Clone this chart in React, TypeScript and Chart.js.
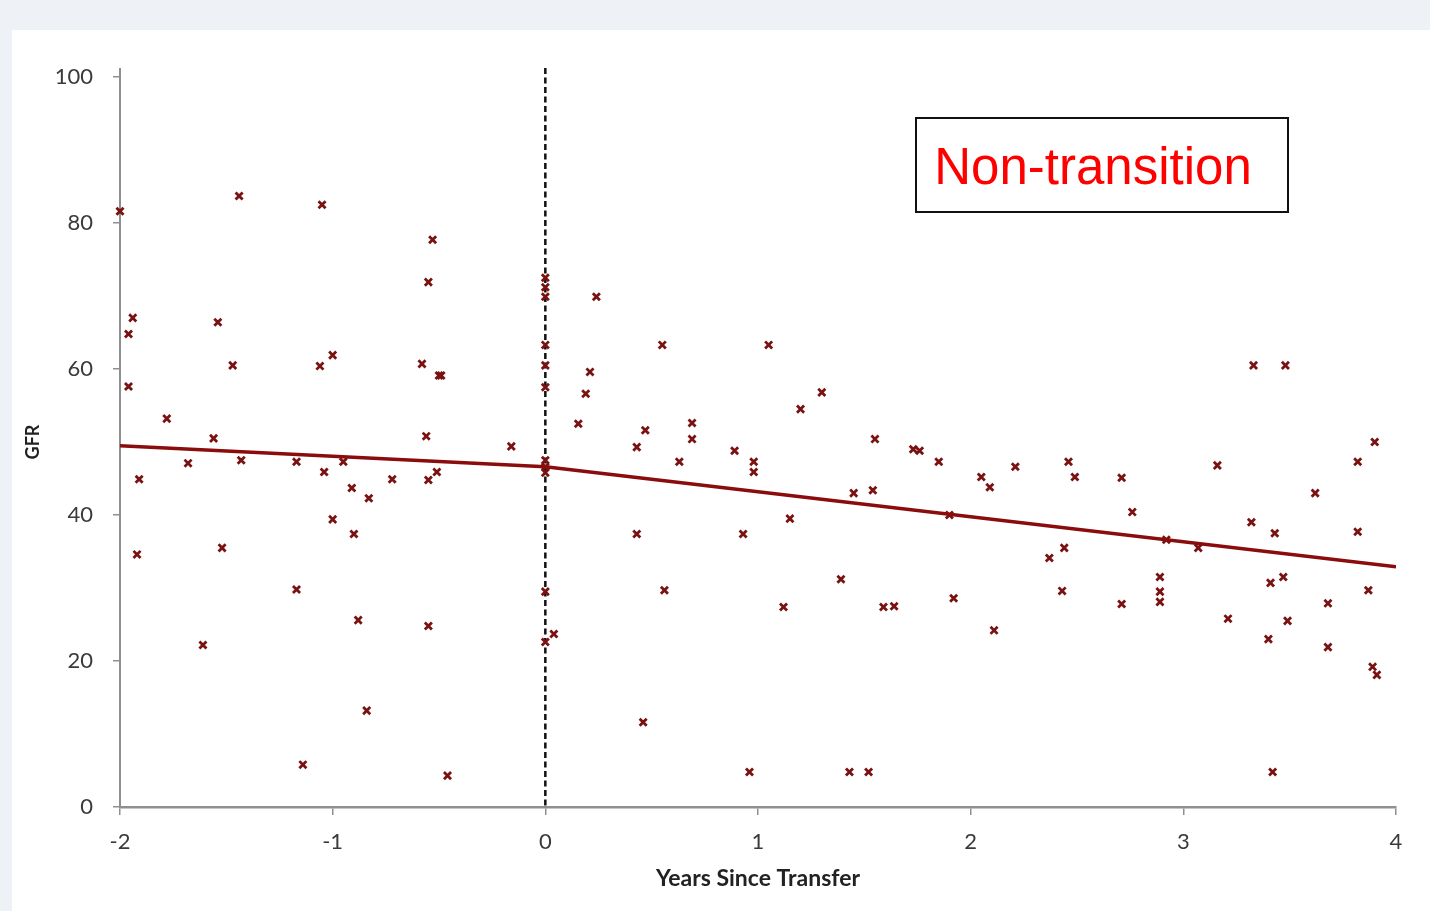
import React, { useEffect, useRef } from "react";
import { Chart, registerables } from "chart.js";

Chart.register(...registerables);

const preX = [-2.0, -1.96, -1.94, -1.96, -1.91, -1.92, -1.78, -1.68, -1.61, -1.56, -1.54, -1.52, -1.47, -1.44, -1.43, -1.17, -1.17, -1.14, -1.05, -1.06, -1.0, -1.04, -1.0, -0.95, -0.91, -0.9, -0.88, -0.84, -0.83, -0.72, -0.58, -0.56, -0.55, -0.53, -0.55, -0.55, -0.5, -0.49, -0.51, -0.46, -0.16];
const preY = [81.6, 64.8, 67.0, 57.6, 44.9, 34.6, 53.2, 47.1, 22.2, 50.5, 66.4, 35.5, 60.5, 83.7, 47.5, 47.3, 29.8, 5.8, 82.5, 60.4, 61.9, 45.9, 39.4, 47.3, 43.7, 37.4, 25.6, 13.2, 42.3, 44.9, 60.7, 50.8, 71.9, 77.7, 44.8, 24.8, 59.1, 59.1, 45.9, 4.3, 49.4];

const atX = [0, 0, 0, 0, 0, 0, 0, 0, 0, 0, 0];
const atY = [72.5, 71.2, 69.9, 63.3, 60.5, 57.5, 47.5, 46.6, 45.8, 29.5, 22.6];

const postX = [0.04, 0.24, 0.155, 0.21, 0.19, 0.55, 1.05, 0.47, 0.43, 0.63, 0.69, 0.69, 0.89, 0.98, 0.98, 1.2, 1.3, 1.55, 1.73, 1.76, 1.85, 1.45, 1.54, 1.15, 0.43, 0.93, 1.9, 0.56, 1.39, 1.12, 1.59, 1.64, 1.92, 0.46, 0.96, 1.43, 1.52, 3.33, 3.48, 2.05, 2.09, 2.21, 2.46, 2.49, 2.71, 2.76, 3.16, 2.92, 3.07, 3.32, 3.43, 3.62, 3.82, 3.9, 3.82, 2.37, 2.44, 2.11, 2.43, 2.71, 2.89, 2.89, 2.89, 3.21, 3.41, 3.47, 3.4, 3.49, 3.68, 3.87, 3.68, 3.89, 3.91, 3.42];
const postY = [23.7, 69.9, 52.5, 59.6, 56.6, 63.3, 63.3, 51.6, 49.3, 47.3, 52.6, 50.4, 48.8, 47.3, 45.9, 54.5, 56.8, 50.4, 49.0, 48.8, 47.3, 43.0, 43.4, 39.5, 37.4, 37.4, 40.0, 29.7, 31.2, 27.4, 27.4, 27.5, 28.6, 11.6, 4.8, 4.8, 4.8, 60.5, 60.5, 45.2, 43.8, 46.6, 47.3, 45.2, 45.1, 40.4, 46.8, 36.6, 35.5, 39.0, 37.5, 43.0, 47.3, 50.0, 37.7, 34.1, 35.5, 24.2, 29.6, 27.8, 31.5, 29.5, 28.1, 25.8, 30.7, 31.5, 23.0, 25.5, 27.9, 29.7, 21.9, 19.2, 18.1, 4.8];

const trendPreX = [-2, 0];
const trendPreY = [49.5, 46.6];
const trendPostX = [0, 4];
const trendPostY = [46.6, 32.9];

const xTicks = [-2, -1, 0, 1, 2, 3, 4];
const yTicks = [0, 20, 40, 60, 80, 100];
const transferX = 0;
const labelText = "Non-transition";

const zip = (xs: number[], ys: number[]) => xs.map((x, i) => ({ x, y: ys[i] }));

const MARK = "#7a1212";
const AXIS = "#8f8f8f";
const TXT = "#3a3a3a";

export default function App() {
  const ref = useRef<HTMLCanvasElement | null>(null);

  useEffect(() => {
    document.body.style.margin = "0";
    const canvas = ref.current;
    if (!canvas) return;

    const overlay = {
      id: "overlay",
      beforeDatasetsDraw(chart: any) {
        const { ctx, chartArea, scales } = chart;
        const xs = scales.x;
        const px = xs.getPixelForValue(transferX);
        ctx.save();
        ctx.strokeStyle = AXIS;
        ctx.lineWidth = 2;
        ctx.beginPath();
        ctx.moveTo(chartArea.left, chartArea.top - 9);
        ctx.lineTo(chartArea.left, chartArea.bottom);
        ctx.stroke();
        ctx.strokeStyle = "#111";
        ctx.lineWidth = 2.5;
        ctx.setLineDash([6, 3.5]);
        ctx.beginPath();
        ctx.moveTo(px, chartArea.top - 9);
        ctx.lineTo(px, chartArea.bottom);
        ctx.stroke();
        ctx.restore();
      },
      afterDraw(chart: any) {
        const { ctx, chartArea } = chart;
        ctx.save();
        const bx = chartArea.left + 796;
        const by = chartArea.top + 41;
        const bw = 372;
        const bh = 94;
        ctx.fillStyle = "#fff";
        ctx.fillRect(bx, by, bw, bh);
        ctx.strokeStyle = "#111";
        ctx.lineWidth = 2;
        ctx.strokeRect(bx, by, bw, bh);
        ctx.fillStyle = "#ff0000";
        ctx.font = '51px "Liberation Sans", Arial, sans-serif';
        ctx.textAlign = "center";
        ctx.textBaseline = "middle";
        ctx.fillText(labelText, bx + bw / 2 - 9, by + bh / 2 + 5);
        ctx.restore();
      },
    };

    const chart = new Chart(canvas, {
      type: "scatter",
      data: {
        datasets: [
          {
            type: "line",
            data: zip(trendPreX, trendPreY),
            borderColor: "#8a0c0c",
            borderWidth: 3.5,
            pointRadius: 0,
            fill: false,
          },
          {
            type: "line",
            data: zip(trendPostX, trendPostY),
            borderColor: "#8a0c0c",
            borderWidth: 3.5,
            pointRadius: 0,
            fill: false,
          },
          {
            data: [...zip(preX, preY), ...zip(atX, atY), ...zip(postX, postY)],
            pointStyle: "crossRot",
            pointRadius: 5,
            borderColor: MARK,
            backgroundColor: MARK,
            borderWidth: 2.8,
            clip: false,
          },
        ],
      } as any,
      options: {
        animation: false,
        responsive: true,
        maintainAspectRatio: false,
        layout: { padding: { top: 47, right: 34, left: 0, bottom: 0 } },
        plugins: { legend: { display: false }, tooltip: { enabled: false } },
        scales: {
          x: {
            type: "linear",
            min: -2,
            max: 4,
            afterFit: (s: any) => {
              s.height = 104;
            },
            afterBuildTicks: (s: any) => {
              s.ticks = xTicks.map((v) => ({ value: v }));
            },
            grid: {
              drawOnChartArea: false,
              drawTicks: true,
              tickLength: 8,
              color: AXIS,
              lineWidth: 1.5,
            },
            border: { display: true, color: AXIS, width: 2.5 },
            ticks: {
              color: TXT,
              padding: 14,
              font: { family: "Lato, sans-serif", size: 22 },
              maxRotation: 0,
            },
            title: {
              display: true,
              text: "Years Since Transfer",
              color: "#222",
              font: { family: "Lato, sans-serif", size: 23, weight: "bold" },
              padding: { top: 19, bottom: 19 },
            },
          },
          y: {
            type: "linear",
            min: 0,
            max: 100,
            afterFit: (s: any) => {
              s.width = 108;
            },
            afterBuildTicks: (s: any) => {
              s.ticks = yTicks.map((v) => ({ value: v }));
            },
            grid: {
              drawOnChartArea: false,
              drawTicks: true,
              tickLength: 7,
              color: AXIS,
              lineWidth: 1.5,
            },
            border: { display: false },
            ticks: {
              color: TXT,
              padding: 20,
              font: { family: "Lato, sans-serif", size: 22 },
            },
            title: {
              display: true,
              text: "GFR",
              color: "#222",
              font: { family: "Lato, sans-serif", size: 18, weight: "bold" },
              padding: { top: 10, bottom: 0 },
            },
          },
        },
      } as any,
      plugins: [overlay],
    });
    return () => chart.destroy();
  }, []);

  return (
    <div style={{ position: "fixed", inset: 0, background: "#eef2f7" }}>
      <div
        style={{
          position: "absolute",
          left: 12,
          top: 30,
          width: 1418,
          height: 881,
          background: "#fff",
        }}
      >
        <canvas ref={ref} />
      </div>
    </div>
  );
}
